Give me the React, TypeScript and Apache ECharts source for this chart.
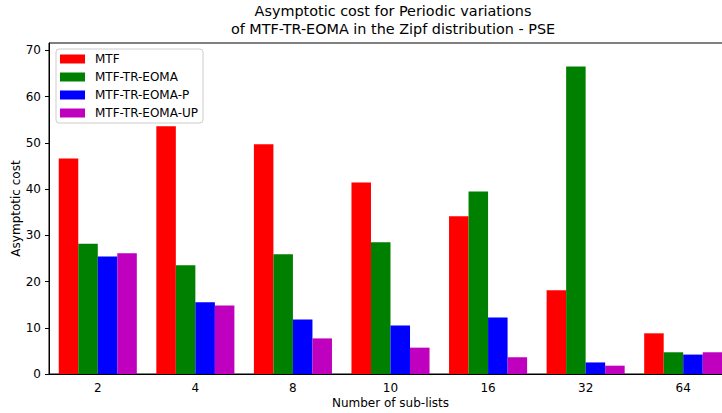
import React, { useEffect, useRef } from "react";
import * as echarts from "echarts";

const categories = ["2", "4", "8", "10", "16", "32", "64"];
const seriesNames = ["MTF", "MTF-TR-EOMA", "MTF-TR-EOMA-P", "MTF-TR-EOMA-UP"];
const mtf = [46.6, 53.6, 49.7, 41.4, 34.1, 18.1, 8.8];
const mtfTrEoma = [28.2, 23.5, 25.9, 28.5, 39.5, 66.5, 4.7];
const mtfTrEomaP = [25.4, 15.5, 11.8, 10.5, 12.2, 2.5, 4.2];
const mtfTrEomaUp = [26.1, 14.8, 7.7, 5.7, 3.6, 1.8, 4.7];
const yTicks = [0, 10, 20, 30, 40, 50, 60, 70];
const colors = ["#ff0000", "#008000", "#0000ff", "#bf00bf"];

const FONT = "DejaVu Sans";

export default function App() {
  const ref = useRef<HTMLDivElement>(null);

  useEffect(() => {
    document.body.style.margin = "0";
    if (!ref.current) return;
    const chart = echarts.init(ref.current, null, { renderer: "svg" });
    const values = [mtf, mtfTrEoma, mtfTrEomaP, mtfTrEomaUp];
    chart.setOption({
      animation: false,
      title: {
        text: "Asymptotic cost for Periodic variations\nof MTF-TR-EOMA in the Zipf distribution - PSE",
        left: 388,
        top: 0,
        padding: [2, 5, 5, 5],
        textAlign: "center",
        textStyle: {
          fontFamily: FONT,
          fontSize: 14.4,
          fontWeight: "normal",
          color: "#000",
          lineHeight: 18,
        },
      },
      legend: {
        orient: "vertical",
        left: 56,
        top: 49,
        itemWidth: 25,
        itemHeight: 9,
        itemGap: 4,
        padding: [3, 5, 3, 4],
        backgroundColor: "rgba(255,255,255,0.8)",
        borderColor: "#cccccc",
        borderWidth: 1,
        borderRadius: 3,
        icon: "rect",
        textStyle: {
          fontFamily: FONT,
          fontSize: 12,
          lineHeight: 14,
          color: "#000",
          padding: [0, 0, 0, 5],
        },
        data: seriesNames,
      },
      grid: {
        left: 49,
        top: 43,
        width: 683,
        height: 331,
        outerBoundsMode: "none",
        show: true,
        borderColor: "#000",
        borderWidth: 1,
        backgroundColor: "transparent",
      },
      xAxis: {
        type: "category",
        data: categories,
        name: "Number of sub-lists",
        nameLocation: "middle",
        nameGap: 23,
        nameMoveOverlap: false,
        nameTextStyle: { fontFamily: FONT, fontSize: 12, color: "#000" },
        axisLine: { lineStyle: { color: "#000", width: 1 } },
        axisTick: { alignWithLabel: true, length: 4, lineStyle: { color: "#000" } },
        axisLabel: { fontFamily: FONT, fontSize: 12, color: "#000", margin: 8 },
      },
      yAxis: {
        type: "value",
        min: 0,
        max: 71.6,
        interval: 10,
        name: "Asymptotic cost",
        nameLocation: "middle",
        nameGap: 27,
        nameMoveOverlap: false,
        nameTextStyle: { fontFamily: FONT, fontSize: 12, color: "#000" },
        axisLine: { show: true, lineStyle: { color: "#000", width: 1 } },
        axisTick: { show: true, length: 4, lineStyle: { color: "#000" } },
        axisLabel: {
          fontFamily: FONT,
          fontSize: 12,
          color: "#000",
          margin: 8,
          showMaxLabel: false,
          formatter: (v: number) => (yTicks.includes(v) ? String(v) : ""),
        },
        splitLine: { show: false },
      },
      series: seriesNames.map((name, i) => ({
        name,
        type: "bar",
        data: values[i],
        barWidth: "20%",
        barGap: "0%",
        itemStyle: { color: colors[i] },
      })),
    });
    return () => chart.dispose();
  }, []);

  return <div ref={ref} style={{ width: 722, height: 413 }} />;
}
